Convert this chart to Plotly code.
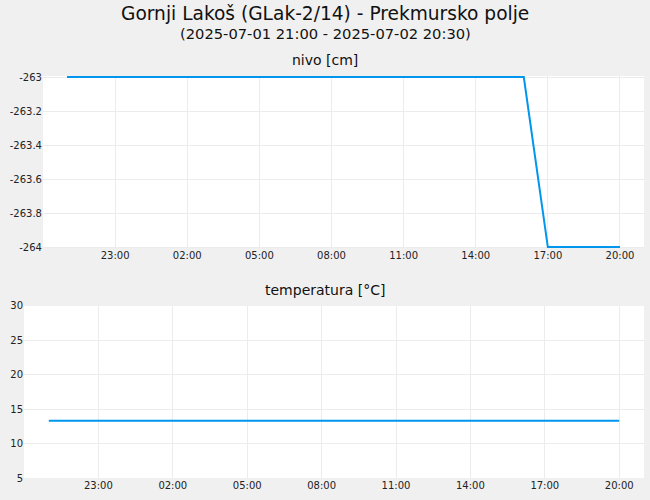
"""Groundwater level and temperature chart for Gornji Lakoš (GLak-2/14)."""

import plotly.graph_objects as go
from plotly.subplots import make_subplots

# Hourly readings, 2025-07-01 21:00 .. 2025-07-02 20:00
times = [
    "2025-07-01 21:00", "2025-07-01 22:00", "2025-07-01 23:00",
    "2025-07-02 00:00", "2025-07-02 01:00", "2025-07-02 02:00",
    "2025-07-02 03:00", "2025-07-02 04:00", "2025-07-02 05:00",
    "2025-07-02 06:00", "2025-07-02 07:00", "2025-07-02 08:00",
    "2025-07-02 09:00", "2025-07-02 10:00", "2025-07-02 11:00",
    "2025-07-02 12:00", "2025-07-02 13:00", "2025-07-02 14:00",
    "2025-07-02 15:00", "2025-07-02 16:00", "2025-07-02 17:00",
    "2025-07-02 18:00", "2025-07-02 19:00", "2025-07-02 20:00",
]
nivo = [-263] * 20 + [-264] * 4
temperatura = [13.3] * 24

x_range = ["2025-07-01 20:00", "2025-07-02 21:00"]
tick_vals = [
    "2025-07-01 23:00", "2025-07-02 02:00", "2025-07-02 05:00",
    "2025-07-02 08:00", "2025-07-02 11:00", "2025-07-02 14:00",
    "2025-07-02 17:00", "2025-07-02 20:00",
]
tick_text = ["23:00", "02:00", "05:00", "08:00", "11:00", "14:00", "17:00", "20:00"]
nivo_ticks = [-264, -263.8, -263.6, -263.4, -263.2, -263]

LINE = "#0096ee"
GRID = "#ececec"
FONT = "DejaVu Sans"

fig = make_subplots(rows=2, cols=1)

fig.add_trace(go.Scatter(x=times, y=nivo, mode="lines",
                         line=dict(color=LINE, width=2),
                         showlegend=False), row=1, col=1)
fig.add_trace(go.Scatter(x=times, y=temperatura, mode="lines",
                         line=dict(color=LINE, width=2),
                         showlegend=False), row=2, col=1)

axis_common = dict(
    showgrid=True, gridcolor=GRID, gridwidth=1,
    zeroline=False, showline=False, ticks="", automargin=False,
    tickfont=dict(family=FONT, size=10, color="#222"),
)

fig.update_xaxes(range=x_range, tickvals=tick_vals, ticktext=tick_text,
                 **axis_common)
fig.update_xaxes(domain=[0.0306, 1], row=1, col=1)
fig.update_xaxes(domain=[0, 1], row=2, col=1)

fig.update_yaxes(**axis_common)
# a hair of padding so the flat lines at the range limits are not clipped
fig.update_yaxes(range=[-264.006, -262.994], tickvals=nivo_ticks,
                 ticktext=[f"{v:g}" for v in nivo_ticks],
                 domain=[0.572, 1], row=1, col=1)
fig.update_yaxes(range=[5, 30], dtick=5, domain=[0, 0.428], row=2, col=1)

# header texts are centred on the page, not on the plot area
cx = (325 - 24) / 620

fig.update_layout(
    width=650, height=500,
    margin=dict(l=24, r=6, t=76, b=22, autoexpand=False),
    paper_bgcolor="#f0f0f0",
    plot_bgcolor="white",
    font=dict(family=FONT, color="#111"),
    annotations=[
        dict(text="Gornji Lakoš (GLak-2/14) - Prekmursko polje",
             x=cx, y=14, xref="paper", yref="paper", showarrow=False,
             font=dict(size=18.6)),
        dict(text="(2025-07-01 21:00 - 2025-07-02 20:30)",
             x=cx, y=34, xref="paper", yref="paper", showarrow=False,
             font=dict(size=14.7)),
        dict(text="nivo [cm]", x=cx, y=60, xref="paper", yref="paper",
             showarrow=False, font=dict(size=14)),
        dict(text="temperatura [°C]", x=cx, y=290, xref="paper",
             yref="paper", showarrow=False, font=dict(size=14)),
    ],
)

# convert pixel y positions of the header texts to paper coordinates
plot_h = 500 - 76 - 22
for ann in fig.layout.annotations:
    ann.y = (478 - ann.y) / plot_h
    ann.yanchor = "middle"

# drop the default page margin so the chart sits at the window corner
fig.write_html("out.html", config={"displayModeBar": False},
               post_script="document.body.style.margin='0';")
